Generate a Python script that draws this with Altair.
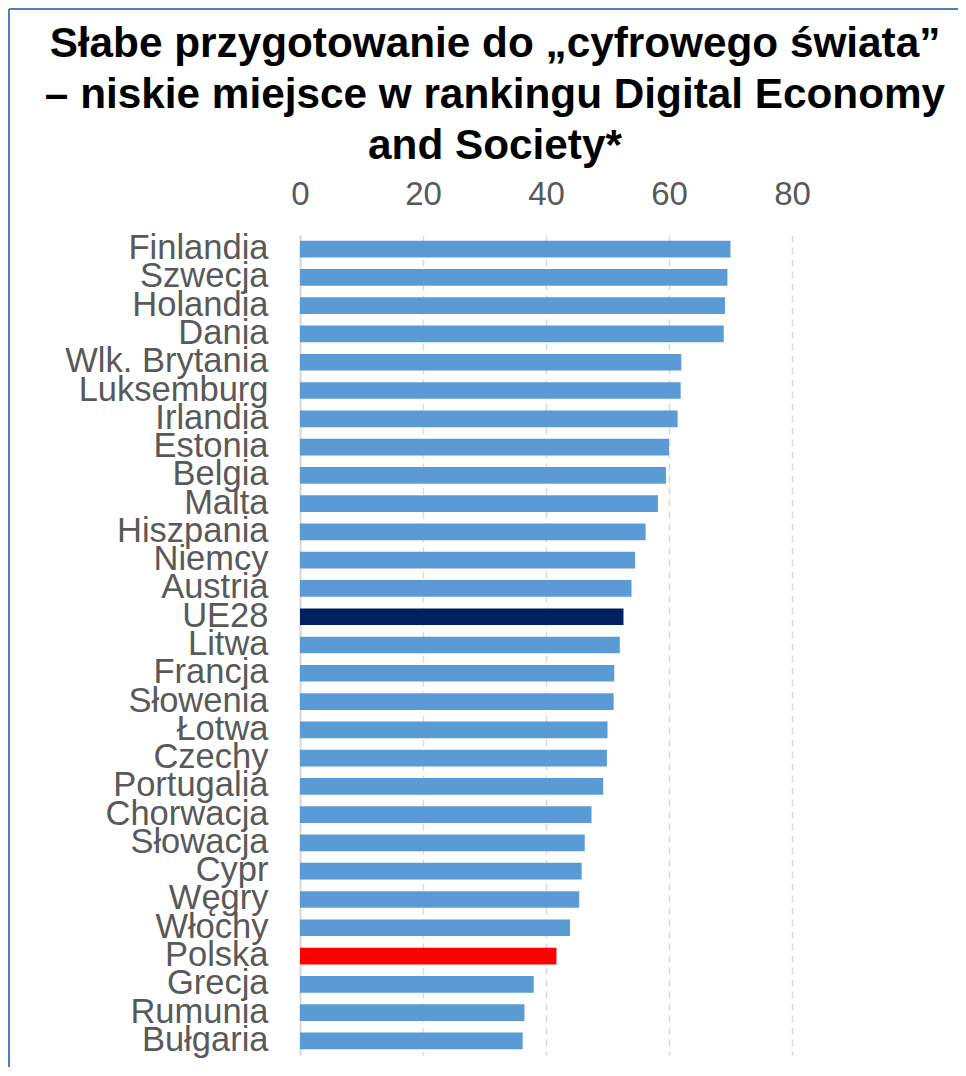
import altair as alt
import pandas as pd

countries = ["Finlandia", "Szwecja", "Holandia", "Dania", "Wlk. Brytania", "Luksemburg",
             "Irlandia", "Estonia", "Belgia", "Malta", "Hiszpania", "Niemcy", "Austria",
             "UE28", "Litwa", "Francja", "Słowenia", "Łotwa", "Czechy", "Portugalia",
             "Chorwacja", "Słowacja", "Cypr", "Węgry", "Włochy", "Polska", "Grecja",
             "Rumunia", "Bułgaria"]
values = [70.0, 69.5, 69.1, 68.9, 62.0, 61.9, 61.4, 60.0, 59.5, 58.2, 56.2, 54.5, 53.9,
          52.6, 52.0, 51.1, 51.0, 50.0, 49.9, 49.3, 47.4, 46.3, 45.8, 45.4, 43.9, 41.7,
          38.0, 36.5, 36.2]
groups = ["kraj"] * 13 + ["UE"] + ["kraj"] * 11 + ["PL"] + ["kraj"] * 3
x_ticks = [0, 20, 40, 60, 80]

df = pd.DataFrame({"kraj": countries, "wartosc": values, "grupa": groups})

W, H = 492, 820
FONT = "Liberation Sans"

bars = alt.Chart(df).mark_bar().encode(
    x=alt.X("wartosc:Q", scale=alt.Scale(domain=[0, 80], nice=False),
            axis=alt.Axis(orient="top", values=x_ticks, title=None, ticks=False, domain=False,
                          grid=True, gridColor="#D9D9D9", gridDash=[7, 5], gridWidth=1.5,
                          labelFontSize=33, labelColor="#595959", labelFont=FONT,
                          labelPadding=24, labelFlush=False)),
    y=alt.Y("kraj:N", sort=countries,
            scale=alt.Scale(paddingInner=0.41, paddingOuter=0.205),
            axis=alt.Axis(title=None, ticks=False, tickSize=0, domain=True,
                          domainColor="#D9D9D9", domainWidth=2,
                          labelFontSize=34.5, labelColor="#595959", labelFont=FONT,
                          labelPadding=32, labelLimit=400)),
    color=alt.Color("grupa:N", scale=alt.Scale(domain=["kraj", "UE", "PL"],
                                               range=["#5B9BD5", "#002060", "#FF0000"]),
                    legend=None),
)

frame_top = alt.Chart(df).mark_rule(color="#4F7FB8", strokeWidth=2).encode(
    x=alt.value(-291), x2=alt.value(658), y=alt.value(-226)
)
frame_left = alt.Chart(df).mark_rule(color="#4F7FB8", strokeWidth=2).encode(
    x=alt.value(-291), y=alt.value(-226), y2=alt.value(H + 12)
)

chart = alt.layer(bars, frame_top, frame_left).properties(
    width=W, height=H,
    title=alt.TitleParams(
        text=["Słabe przygotowanie do „cyfrowego świata”",
              "– niskie miejsce w rankingu Digital Economy",
              "and Society*"],
        font=FONT, fontSize=42.3, fontWeight="bold", color="#000000",
        anchor="middle", frame="group", dx=-51, lineHeight=51, offset=-160
    ),
    autosize=alt.AutoSizeParams(type="none"),
    padding={"left": 292, "top": 227, "right": 166, "bottom": 12},
).configure_view(stroke=None)

chart.save("out.html", embed_options={"renderer": "svg", "actions": False})
